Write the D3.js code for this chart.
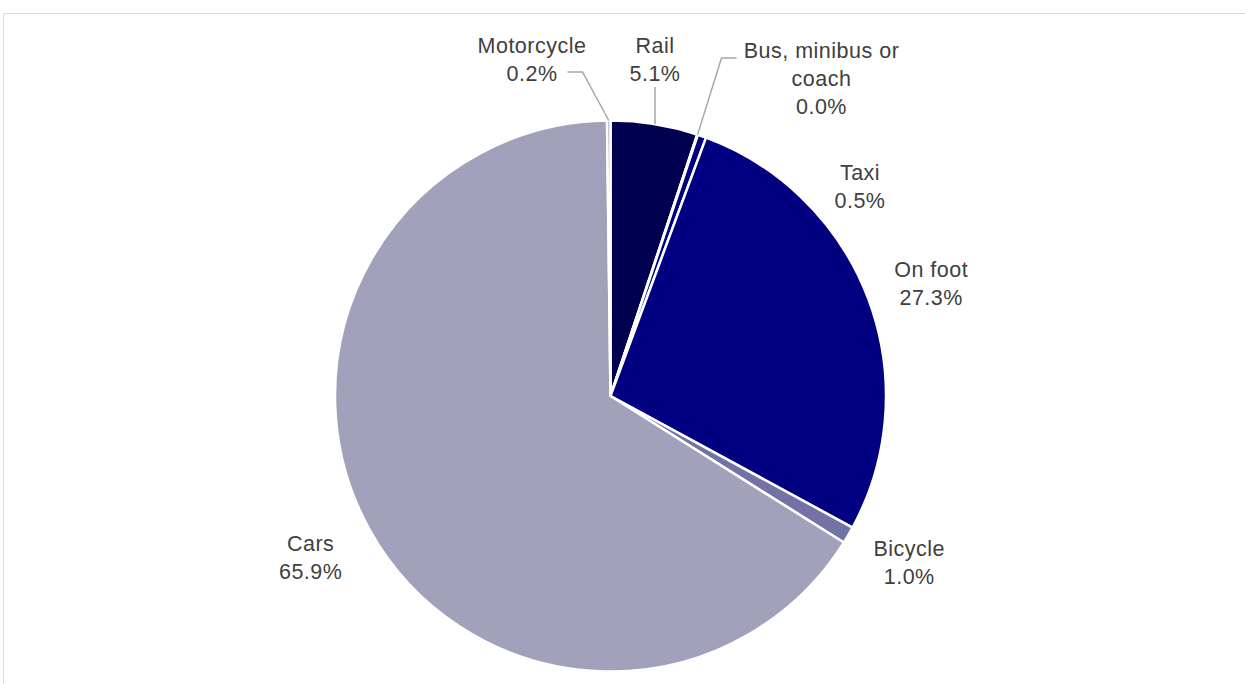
<!DOCTYPE html>
<html>
<head>
<meta charset="utf-8">
<script src="https://cdn.jsdelivr.net/npm/d3@7"></script>
<style>
  html, body { margin: 0; padding: 0; background: #fff; }
  svg { display: block; font-family: "Liberation Sans", Arial, sans-serif; }
</style>
</head>
<body>
<svg id="chart" width="1245" height="684"></svg>
<script>
// Share of trips by main mode (reading clockwise from 12 o'clock)
const modes  = ["Rail", "Bus, minibus or coach", "Taxi", "On foot", "Bicycle", "Cars", "Motorcycle"];
const shares = [5.1, 0.04, 0.5, 27.3, 1.0, 65.9, 0.2];
const shown  = ["5.1%", "0.0%", "0.5%", "27.3%", "1.0%", "65.9%", "0.2%"];
const colors = ["#000050", "#000080", "#00007e", "#000080", "#7272a6", "#a1a1bb", "#a1a1bb"];

const W = 1245, H = 684;
const cx = 610.5, cy = 396, R = 275.5;
const ink = "#404040";

const svg = d3.select("#chart");

// chart-area frame (cut off at right/bottom like the source)
svg.append("rect").attr("x", 3.5).attr("y", 13.5).attr("width", W + 10).attr("height", H + 10)
  .attr("fill", "none").attr("stroke", "#d9d9d9").attr("stroke-width", 1);

const rows = modes.map((m, i) => ({ mode: m, v: shares[i], txt: shown[i], color: colors[i] }));
const pie = d3.pie().value(d => d.v).sort(null);
const arcs = pie(rows);
const arc = d3.arc().innerRadius(0).outerRadius(R);

const g = svg.append("g").attr("transform", `translate(${cx},${cy})`);
g.selectAll("path").data(arcs).join("path")
  .attr("d", arc).attr("fill", d => d.data.color)
  .attr("stroke", "#fff").attr("stroke-width", 2.5).attr("stroke-linejoin", "round");

// label placement: default = along the slice's mid-angle (with a small nudge);
// the tiny slices at the top are moved out with leader lines, as Excel does
const polar = (a, r) => [Math.sin(a) * r, -Math.cos(a) * r];
const nudge = { "On foot": [1, 7], "Bicycle": [4, -6], "Cars": [-2, -6] };
const labelAt = {
  "Motorcycle": { pos: [-78.5, -337], leader: true, elbow: [-28, -324] },
  "Rail": { pos: [44.5, -337], leader: true },
  "Bus, minibus or coach": { pos: [211, -318], leader: true, elbow: [111, -338], end: [126, -338] },
  "Taxi": { pos: [249.5, -210] },
};

const lab = g.append("g").attr("font-size", 21.5).attr("letter-spacing", 0.5)
  .attr("fill", ink).attr("text-anchor", "middle");
arcs.forEach(d => {
  const mid = (d.startAngle + d.endAngle) / 2;
  const o = labelAt[d.data.mode];
  let p = o ? o.pos : polar(mid, R + 66);
  const n = nudge[d.data.mode];
  if (n) p = [p[0] + n[0], p[1] + n[1]];
  const lines = d.data.mode === "Bus, minibus or coach" ? ["Bus, minibus or", "coach", d.data.txt] : [d.data.mode, d.data.txt];
  const lh = 27.8;
  const y0 = p[1] - (lines.length - 1) * lh / 2;
  const t = lab.append("text").attr("x", p[0]).attr("y", y0);
  lines.forEach((s, i) => t.append("tspan").attr("x", p[0]).attr("y", y0 + i * lh).attr("dy", "0.36em").text(s));

  if (o && o.leader) {
    const edge = polar(mid, R);
    let pts;
    if (d.data.mode === "Rail") pts = [[p[0], p[1] + lh / 2 + 14], [p[0], edge[1]]];
    else pts = [o.end || [o.elbow[0] - 15, o.elbow[1]], o.elbow, edge];
    g.append("path").attr("d", d3.line()(pts)).attr("fill", "none")
      .attr("stroke", "#a6a6a6").attr("stroke-width", 1.5);
  }
});
</script>
</body>
</html>
